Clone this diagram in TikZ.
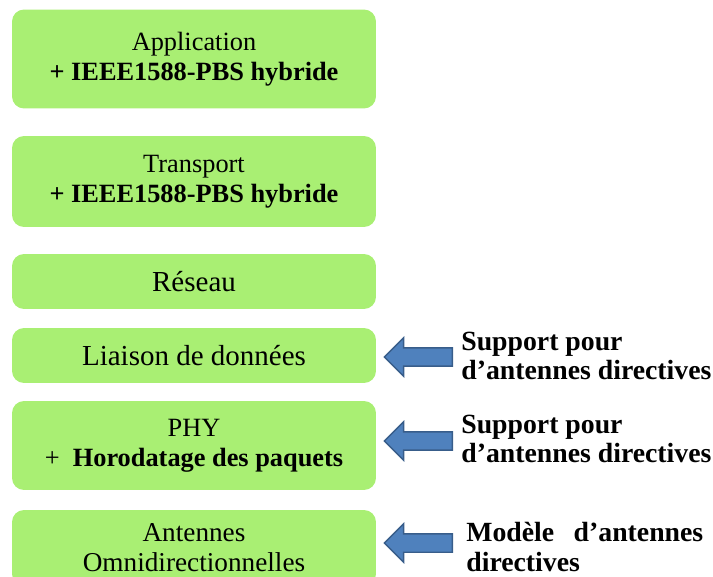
\documentclass[tikz,border=0pt]{standalone}
\usepackage{fontspec}
\setmainfont{Liberation Serif}
\usetikzlibrary{shapes.arrows,positioning}
\definecolor{layergreen}{HTML}{A9EF73}
\definecolor{arrowblue}{HTML}{4F81BD}
\definecolor{arrowedge}{HTML}{385D8A}
\tikzset{
  layer/.style={fill=layergreen, rounded corners=0.24cm, minimum width=7.28cm,
    align=center, inner sep=0pt, font=\fontsize{15}{17}\selectfont},
  pointer/.style={single arrow, shape border rotate=180, fill=arrowblue,
    draw=arrowedge, thick, minimum height=1.36cm, inner xsep=0pt,
    inner ysep=0.17cm, single arrow head extend=0.2cm},
  note/.style={font=\bfseries\fontsize{15.8}{17}\selectfont, align=left,
    anchor=west, inner sep=0pt},
}

\begin{document}
\begin{tikzpicture}[x=0.02cm,y=-0.02cm]
  \useasboundingbox (0,0) rectangle (713,577);
  \clip (0,0) rectangle (713,577);
  % protocol layers
  \node[layer, minimum height=1.98cm] (app) at (194,59)
    {Application\\\textbf{+ IEEE1588-PBS hybride}};
  \node[layer, minimum height=1.82cm] (trans) at (194,181.5)
    {Transport\\\textbf{+ IEEE1588-PBS hybride}};
  \node[layer, minimum height=1.10cm, font=\fontsize{16.5}{20}\selectfont] (net) at (194,281.5) {Réseau};
  \node[layer, minimum height=1.10cm, font=\fontsize{16.5}{20}\selectfont] (mac) at (194,355.5) {Liaison de données};
  \node[layer, minimum height=1.78cm] (phy) at (194,445.5)
    {PHY\\+\ \ \textbf{Horodatage des paquets}};
  \node[layer, minimum height=1.52cm, font=\fontsize{15.5}{17}\selectfont] (ant) at (194,548)
    {Antennes\\Omnidirectionnelles};
  % contributions
  \node[pointer] (p1) at (423,357) {};
  \node[pointer] (p2) at (423,441) {};
  \node[pointer] (p3) at (423,543) {};
  \node[note] (n1) at (461,356) {Support pour\\d’antennes directives};
  \node[note] (n2) at (461,439) {Support pour\\d’antennes directives};
  \node[note] (n3) at (466,547) {\hbox to 4.74cm{Modèle\hfill d’antennes}\\directives};
\end{tikzpicture}
\end{document}
